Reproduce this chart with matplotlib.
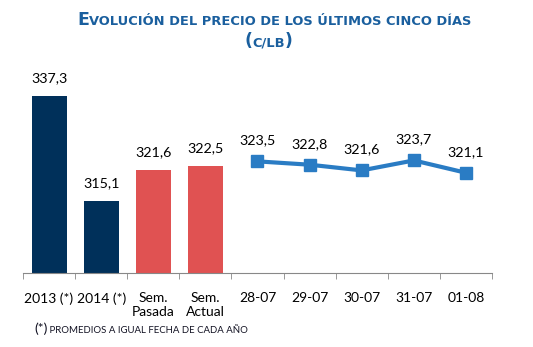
import numpy as np
import matplotlib.pyplot as plt

categorias = ['2013 (*)', '2014 (*)', 'Sem.\nPasada', 'Sem.\nActual',
              '28-07', '29-07', '30-07', '31-07', '01-08']
barras = [337.3, 315.1, 321.6, 322.5]
linea = [323.5, 322.8, 321.6, 323.7, 321.1]

azul_osc = '#00305a'
rojo = '#e05252'
azul = '#2a7cc4'
titulo_c = '#1a5f9e'

plt.rcParams['font.family'] = ['Lato', 'DejaVu Sans']

fig = plt.figure(figsize=(5.33, 3.47), dpi=100)
ax = fig.add_axes([23 / 533, 74 / 347, 469 / 533, 190 / 347])

xb = np.arange(len(barras))
ax.bar(xb, barras, width=0.67, color=[azul_osc, azul_osc, rojo, rojo], zorder=2)
for x, v in zip(xb, barras):
    ax.annotate(f'{v:.1f}'.replace('.', ','), (x, v), xytext=(0, 13),
                textcoords='offset points', ha='center', va='center', fontsize=10.3)

xl = np.arange(len(barras), len(categorias))
ax.plot(xl, linea, color=azul, lw=3, marker='s', ms=9, solid_joinstyle='round', zorder=3)
for x, v in zip(xl, linea):
    ax.annotate(f'{v:.1f}'.replace('.', ','), (x, v), xytext=(0, 15),
                textcoords='offset points', ha='center', va='center', fontsize=10.3)

ax.set_ylim(300, 340)
ax.set_xlim(-0.5, len(categorias) - 0.5)
ax.set_yticks([])
for s in ['left', 'right', 'top']:
    ax.spines[s].set_visible(False)
ax.spines['bottom'].set_color('#888888')
ax.set_xticks(range(len(categorias)))
ax.set_xticklabels(categorias, fontsize=10)
ax.tick_params(axis='x', which='major', length=0, pad=14)
ax.set_xticks(np.arange(-0.5, len(categorias)), minor=True)
ax.tick_params(axis='x', which='minor', length=4, color='#888888')

renderer = fig.canvas.get_renderer()


def versalitas(x, y, trozos, **kw):
    # trozos: lista de (texto, tamaño); se colocan seguidos sobre la misma linea base
    for texto, size in trozos:
        t = fig.text(x, y, texto, fontsize=size, va='baseline', **kw)
        w = t.get_window_extent(renderer).width
        x += w / fig.bbox.width


estilo = dict(fontweight='bold', color=titulo_c, family='DejaVu Sans')
versalitas(77 / 533, 1 - 25 / 347,
           [('E', 12.5), ('VOLUCIÓN DEL PRECIO DE LOS ÚLTIMOS CINCO DÍAS', 9.4)], **estilo)
versalitas(244 / 533, 1 - 46 / 347, [('(', 12.5), ('C/LB', 9.4), (')', 12.5)], **estilo)

versalitas(34 / 533, 1 - 333 / 347,
           [('(*)', 10), (' PROMEDIOS A IGUAL FECHA DE CADA AÑO', 6.9)], color='#111122')

fig.savefig('out.png', dpi=100)
